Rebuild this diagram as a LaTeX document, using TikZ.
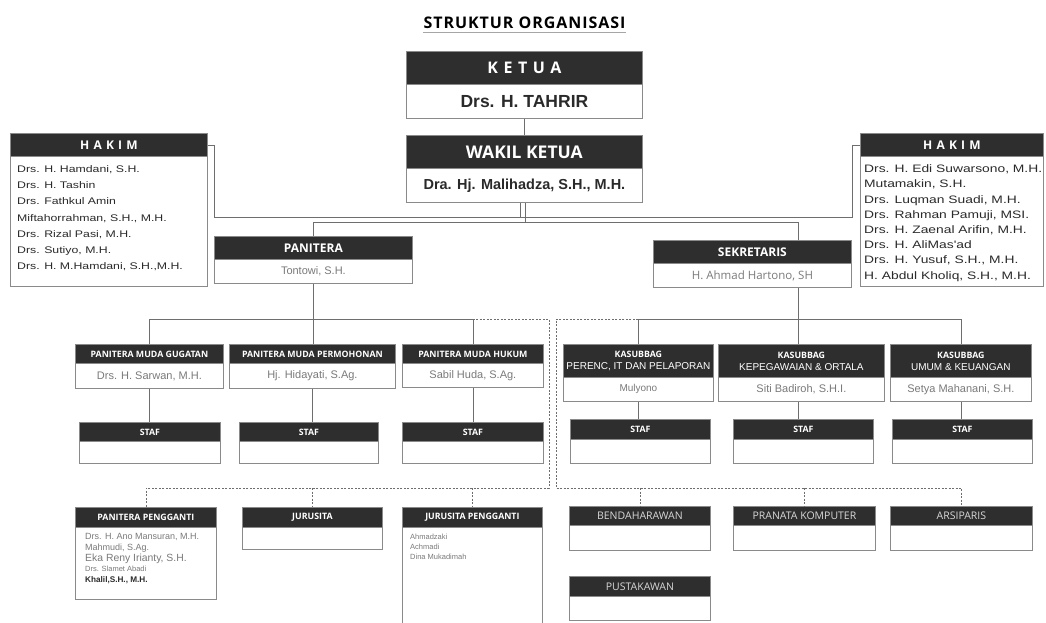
\documentclass[tikz,border=0pt]{standalone}
\usepackage{fontspec}
\setmainfont{Liberation Sans}
\newfontfamily\hf{Open Sans}
\newfontfamily\wsans[FakeStretch=1.28]{Liberation Sans}
\newfontfamily\tit[LetterSpace=6]{Open Sans}
\newfontfamily\spaced[LetterSpace=35]{Open Sans}
\definecolor{hdrc}{HTML}{2E2E2E}
\definecolor{bordc}{HTML}{8A8A8A}
\definecolor{linec}{HTML}{6E6E6E}
\definecolor{namec}{HTML}{7A7A7A}
\definecolor{darkt}{HTML}{2A2A2A}
\definecolor{lthdr}{HTML}{D8D8D8}
\newcommand\fs[2]{\fontsize{#1}{#2}\selectfont}
\newcommand\sh{\hf\bfseries\fs{8.8}{11.5}}
\newcommand\lt{\hf\fs{10.5}{12}\color{lthdr}}
\newcommand\nm{\fs{11}{13}\color{namec}}
\newcommand\obox[8]{%
  \node[hdr, minimum width={#3-#2}, minimum height={#5-#4}] (#1-h) at (#2,#4) {#7};
  \node[bod, minimum width={#3-#2}, minimum height={#6-#5}] (#1) at (#2,#5) {#8};}
\begin{document}
\begin{tikzpicture}[x=1pt,y=-1pt,
  hdr/.style={fill=hdrc, draw=bordc, line width=0.8pt, inner sep=0pt, anchor=north west, text=white, align=center},
  bod/.style={fill=white, draw=bordc, line width=0.8pt, inner sep=0pt, anchor=north west, text=darkt, align=center},
  conn/.style={draw=linec, line width=0.8pt},
  dsh/.style={draw=linec, line width=0.8pt, dash pattern=on 2pt off 1.5pt},
  lst/.style={anchor=west, inner sep=0pt, text height=0.75em, text depth=0.2em, text=darkt},
  uline/.style={draw=gray!70, line width=1.6pt}]
\useasboundingbox[fill=white] (0,0) rectangle (1046,623);

% title
\node[inner sep=0pt] (title) at (524.5,23) {\tit\bfseries\fs{16}{18}STRUKTUR ORGANISASI};
\draw[uline] (title.west |- 0,32.5) -- (title.east |- 0,32.5);

% top boxes
\obox{ketua}{406}{642}{51}{84}{118}{\spaced\bfseries\fs{16}{18}KETUA}{\bfseries\fs{17.5}{20}Drs. H. TAHRIR}
\obox{wakil}{406}{642}{135}{168}{202}{\hf\bfseries\fs{17.5}{20}WAKIL KETUA}{\bfseries\fs{14.5}{17}Dra. Hj. Malihadza, S.H., M.H.}
\obox{hakimL}{10}{207}{133}{156}{286}{\spaced\bfseries\fs{12}{14}HAKIM}{}
\obox{hakimR}{860}{1043}{133}{156}{286}{\spaced\bfseries\fs{12}{14}HAKIM}{}
\obox{panitera}{214}{412}{236}{259}{283}{\hf\bfseries\fs{12}{14}PANITERA}{\nm Tontowi, S.H.}
\obox{sekretaris}{653}{851}{240}{263}{287}{\hf\bfseries\fs{12}{14}SEKRETARIS}{\hf\fs{11.5}{13}\color{namec}H. Ahmad Hartono, SH}

% hakim lists
\foreach \t [count=\i] in {{Drs. H. Hamdani, S.H.},{Drs. H. Tashin},{Drs. Fathkul Amin},{Miftahorrahman, S.H., M.H.},{Drs. Rizal Pasi, M.H.},{Drs. Sutiyo, M.H.},{Drs. H. M.Hamdani, S.H.,M.H.}}
  \node[lst, font=\wsans\fs{9.6}{11}] (hl\i) at (17,{170+16.1*(\i-1)}) {\t};
\foreach \t [count=\i] in {{Drs. H. Edi Suwarsono, M.H.},{Mutamakin, S.H.},{Drs. Luqman Suadi, M.H.},{Drs. Rahman Pamuji, MSI.},{Drs. H. Zaenal Arifin, M.H.},{Drs. H. AliMas'ad},{Drs. H. Yusuf, S.H., M.H.},{H. Abdul Kholiq, S.H., M.H.}}
  \node[lst, font=\wsans\fs{10.8}{13}] (hr\i) at (864,{170+15.2*(\i-1)}) {\t};

% second level
\obox{gugatan}{75}{223}{344}{363}{388}{\sh PANITERA MUDA GUGATAN}{\nm Drs. H. Sarwan, M.H.}
\obox{permohonan}{229}{395}{344}{363}{388}{\sh PANITERA MUDA PERMOHONAN}{\nm Hj. Hidayati, S.Ag.}
\obox{hukum}{402}{543}{344}{363}{387}{\sh PANITERA MUDA HUKUM}{\nm Sabil Huda, S.Ag.}
\obox{perenc}{563}{713}{344}{377}{401}{\sh KASUBBAG\\PERENC, IT DAN PELAPORAN}{\fs{10}{12}\color{namec}Mulyono}
\obox{kepeg}{718}{884}{344}{377}{401}{\sh KASUBBAG\\KEPEGAWAIAN \& ORTALA}{\nm Siti Badiroh, S.H.I.}
\obox{umum}{890}{1031}{344}{377}{401}{\sh KASUBBAG\\UMUM \& KEUANGAN}{\nm Setya Mahanani, S.H.}

% staf
\obox{stafA}{79}{220}{422}{441}{463}{\sh STAF}{}
\obox{stafB}{239}{378}{422}{441}{463}{\sh STAF}{}
\obox{stafC}{402}{543}{422}{441}{463}{\sh STAF}{}
\obox{stafD}{570}{710}{419}{439}{463}{\sh STAF}{}
\obox{stafE}{733}{873}{419}{439}{463}{\sh STAF}{}
\obox{stafF}{892}{1032}{419}{439}{463}{\sh STAF}{}

% bottom row
\obox{pengganti}{75}{216}{507}{527}{599}{\sh PANITERA PENGGANTI}{}
\obox{jurusita}{242}{382}{507}{527}{549}{\sh JURUSITA}{}
\obox{jurpeng}{402}{542}{507}{527}{632}{\sh JURUSITA PENGGANTI}{}
\obox{bendahara}{569}{710}{506}{525}{550}{\lt BENDAHARAWAN}{}
\obox{pranata}{733}{875}{506}{525}{550}{\lt PRANATA KOMPUTER}{}
\obox{arsiparis}{890}{1032}{506}{525}{550}{\lt ARSIPARIS}{}
\obox{pustakawan}{569}{710}{576}{596}{620}{\lt PUSTAKAWAN}{}

% pengganti names
\node[lst, text=namec, font=\fs{9}{10}] (pg1) at (85,537) {Drs. H. Ano Mansuran, M.H.};
\node[lst, text=namec, font=\fs{9}{10}] (pg2) at (85,548) {Mahmudi, S.Ag.};
\node[lst, text=namec, font=\fs{10.4}{12}] (pg3) at (85,559) {Eka Reny Irianty, S.H.};
\node[lst, text=namec, font=\fs{7.5}{9}] (pg4) at (85,569) {Drs. Slamet Abadi};
\node[lst, text=darkt, font=\bfseries\fs{8.2}{10}] (pg5) at (85,580) {Khalil,S.H., M.H.};
% jurusita pengganti names
\node[lst, text=namec, font=\fs{7.5}{9}] (jp1) at (410,537) {Ahmadzaki};
\node[lst, text=namec, font=\fs{7.5}{9}] (jp2) at (410,547) {Achmadi};
\node[lst, text=namec, font=\fs{7.5}{9}] (jp3) at (410,557) {Dina Mukadimah};

% connectors top
\coordinate (jL) at (520,217);
\coordinate (jM) at (525,222);
\coordinate (jS) at (798,222);
\draw[conn] (ketua.south) -- (wakil-h.north);
\draw[conn] (hakimL-h.east) -- ++(7,0) |- (jL) -- (wakil.south -| jL);
\draw[conn] (hakimR-h.west) -- ++(-8,0) |- (jL);
\draw[conn] (wakil.south -| jM) -- (jM) -| (panitera-h.north);
\draw[conn] (jM) -- (jS) -- (sekretaris-h.north -| jS);

% second level connectors
\coordinate (bL) at (0,319);
\draw[conn] (panitera.south) -- (panitera.south |- permohonan-h.north);
\draw[conn] (gugatan-h.north) -- (gugatan-h.north |- bL) -- (hukum-h.north |- bL) -- (hukum-h.north);
\draw[conn] (sekretaris.south -| jS) -- (kepeg-h.north -| jS);
\draw[conn] (perenc-h.north) -- (perenc-h.north |- bL) -- (umum-h.north |- bL) -- (umum-h.north);

% staf connectors
\draw[conn] (gugatan.south) -- (gugatan.south |- stafA-h.north);
\draw[conn] (permohonan.south) -- (permohonan.south |- stafB-h.north);
\draw[conn] (hukum.south) -- (hukum.south |- stafC-h.north);
\draw[conn] (perenc.south) -- (perenc.south |- stafD-h.north);
\draw[conn] (kepeg.south -| jS) -- (stafE-h.north -| jS);
\draw[conn] (umum.south) -- (umum.south |- stafF-h.north);

% dashed connectors
\coordinate (dA) at (549,319);
\coordinate (dB) at (556,319);
\coordinate (bB) at (0,488);
\draw[dsh] (hukum-h.north |- bL) -- (dA) -- (dA |- bB) -- (pengganti-h.north |- bB) -- (pengganti-h.north);
\draw[dsh] (jurusita-h.north |- bB) -- (jurusita-h.north);
\draw[dsh] (jurpeng-h.north |- bB) -- (jurpeng-h.north);
\draw[dsh] (perenc-h.north |- bL) -- (dB) -- (dB |- bB) -- (arsiparis-h.north |- bB) -- (arsiparis-h.north);
\draw[dsh] (bendahara-h.north |- bB) -- (bendahara-h.north);
\draw[dsh] (pranata-h.north |- bB) -- (pranata-h.north);
\end{tikzpicture}
\end{document}
